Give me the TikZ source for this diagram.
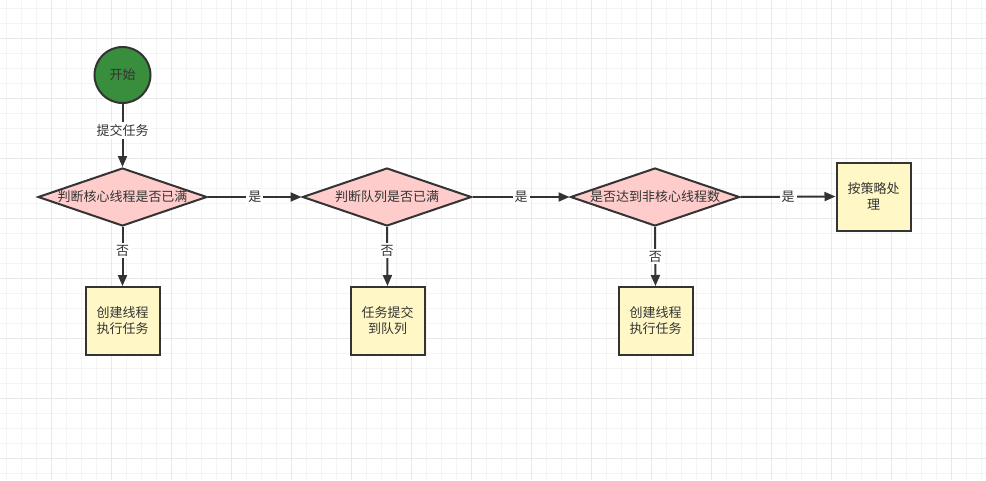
\documentclass[tikz,border=0pt]{standalone}
\usepackage{fontspec}
\newfontfamily\cjk{Noto Sans CJK SC}
\usetikzlibrary{shapes.geometric,arrows.meta}
\definecolor{gridminor}{HTML}{F4F4F4}
\definecolor{gridmajor}{HTML}{E8E8E8}
\definecolor{ink}{HTML}{333333}
\definecolor{startgreen}{HTML}{388E3C}
\definecolor{decpink}{HTML}{FFCCCC}
\definecolor{procyellow}{HTML}{FFF8C6}
\tikzset{
  labelfont/.style={font=\cjk\fontsize{13}{16}\selectfont},
  base/.style={draw=ink, line width=2pt, text=ink, labelfont},
  startnode/.style={base, circle, fill=startgreen, minimum size=56pt, inner sep=0pt},
  decision/.style={base, diamond, fill=decpink, minimum width=169pt, minimum height=58pt, inner sep=0pt},
  procbox/.style={base, rectangle, fill=procyellow, minimum width=74pt, minimum height=68pt, align=center, inner sep=2pt},
  flow/.style={draw=ink, line width=2pt, -{Triangle[length=11pt,width=9pt]}},
  flowlabel/.style={fill=white, text=ink, inner sep=2pt, labelfont}
}
\begin{document}
\begin{tikzpicture}[x=1pt,y=-1pt]
  % canvas and grid
  \fill[white] (0,0) rectangle (986,480);
  \useasboundingbox (0,0) rectangle (986,480);
  \foreach \gx in {6.7,21.7,...,986} {\draw[gridminor, line width=0.8pt] (\gx,0) -- (\gx,480);}
  \foreach \gy in {8.3,23.3,...,480} {\draw[gridminor, line width=0.8pt] (0,\gy) -- (986,\gy);}
  \foreach \gx in {51.7,111.7,...,986} {\draw[gridmajor, line width=0.9pt] (\gx,0) -- (\gx,480);}
  \foreach \gy in {38.3,98.3,...,480} {\draw[gridmajor, line width=0.9pt] (0,\gy) -- (986,\gy);}

  % nodes
  \node[startnode] (start) at (122.5,75) {开始};
  \node[decision, label={[text=ink, labelfont]center:判断核心线程是否已满}] (d1) at (122.5,197) {};
  \node[decision, label={[text=ink, labelfont]center:判断队列是否已满}] (d2) at (387,197) {};
  \node[decision, label={[text=ink, labelfont]center:是否达到非核心线程数}] (d3) at (655,197) {};
  \node[procbox] (b1) at (122.5,321) {创建线程\\执行任务};
  \node[procbox] (b2) at (387.5,321) {任务提交\\到队列};
  \node[procbox] (b3) at (655.5,321) {创建线程\\执行任务};
  \node[procbox] (b4) at (873.5,196.5) {按策略处\\理};

  % connectors
  \draw[flow] (start) -- node[flowlabel, pos=0.42] {提交任务} (d1.north);
  \draw[flow] (d1.east) -- node[flowlabel, pos=0.5] {是} (d2.west);
  \draw[flow] (d2.east) -- node[flowlabel, pos=0.5] {是} (d3.west);
  \draw[flow] (d3.east) -- node[flowlabel, pos=0.5] {是} (b4.west);
  \draw[flow] (d1.south) -- node[flowlabel, pos=0.4] {否} (b1.north);
  \draw[flow] (d2.south) -- node[flowlabel, pos=0.4] {否} (b2.north);
  \draw[flow] (d3.south) -- node[flowlabel, pos=0.5] {否} (b3.north);
\end{tikzpicture}
\end{document}
